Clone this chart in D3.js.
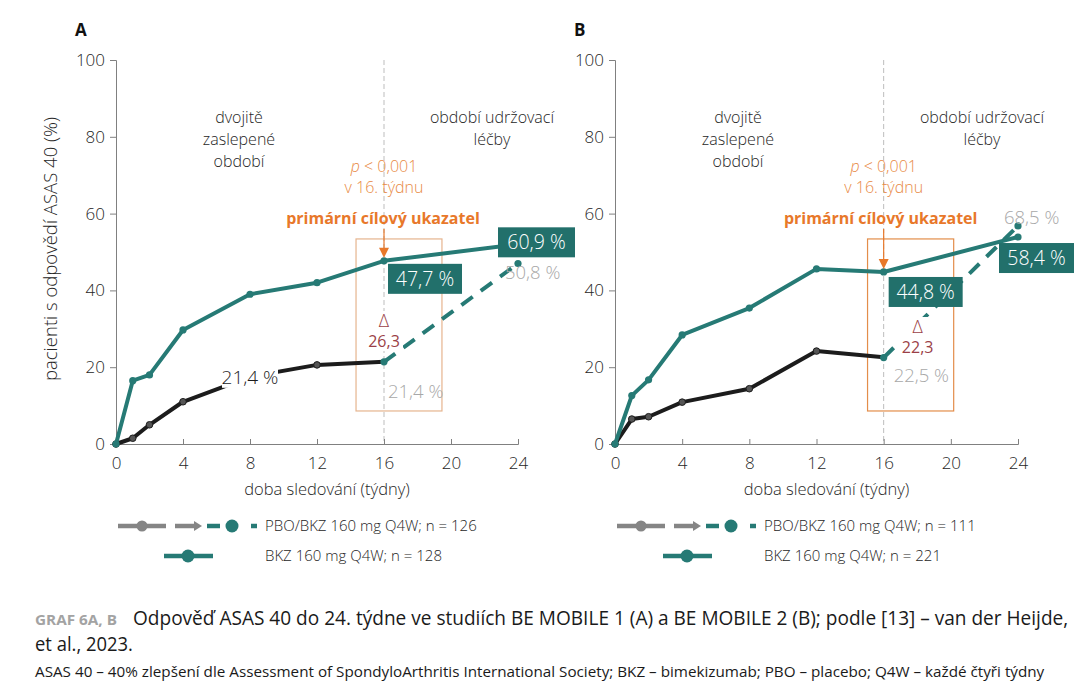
<!DOCTYPE html>
<html>
<head>
<meta charset="utf-8">
<script src="https://cdn.jsdelivr.net/npm/d3@7"></script>
<style>
body { margin: 0; background: #fff; }
text { font-family: "Open Sans", "Noto Sans", sans-serif; }
</style>
</head>
<body>
<script>
//Width and height
var w = 1080;
var h = 698;

//Data
var weeks = [0, 1, 2, 4, 8, 12, 16, 24];
var pboWeeks = [0, 1, 2, 4, 8, 12, 16];
var switchWeeks = [16, 24];
var xTicks = [0, 4, 8, 12, 16, 20, 24];
var yTicks = [0, 20, 40, 60, 80, 100];

var bkzA = [0, 16.5, 18, 29.7, 39, 42, 47.7, 52];
var pboA = [0, 1.5, 5, 11, 17.5, 20.6, 21.4];
var switchA = [21.4, 47];

var bkzB = [0, 12.6, 16.7, 28.4, 35.4, 45.6, 44.8, 53.9];
var pboB = [0, 6.5, 7.1, 10.9, 14.4, 24.2, 22.6];
var switchB = [22.5, 56.8];

var legendA = ["PBO/BKZ 160 mg Q4W; n = 126", "BKZ 160 mg Q4W; n = 128"];
var legendB = ["PBO/BKZ 160 mg Q4W; n = 111", "BKZ 160 mg Q4W; n = 221"];

//Colours
var teal = "#267a75";
var tealBox = "#22706b";
var grey = "#a8a8a8";
var orange = "#e8782a";
var orangeLight = "#e88a45";
var deltaRed = "#9b3f47";
var ink = "#262626";

//Create SVG element
var svg = d3.select("body")
            .append("svg")
            .attr("width", w)
            .attr("height", h);

svg.append("rect").attr("width", w).attr("height", h).attr("fill", "#fff");

function drawPanel(p) {
    var x = d3.scaleLinear().domain([0, 24]).range([p.x0, p.x1]);
    var y = d3.scaleLinear().domain([0, 100]).range([444, 60]);
    var g = svg.append("g");

    //panel letter
    g.append("text")
     .attr("x", p.x0 - 41).attr("y", 36)
     .attr("font-size", 17).attr("font-weight", "bold").attr("fill", "#111")
     .text(p.letter);

    //week 16 divider
    g.append("line")
     .attr("x1", x(16)).attr("x2", x(16))
     .attr("y1", y(100)).attr("y2", y(0))
     .attr("stroke", "#bdbdbd").attr("stroke-width", 1)
     .attr("stroke-dasharray", "5,3");

    //axes
    var yAxis = g.append("g")
     .attr("transform", "translate(" + p.x0 + ",0)")
     .call(d3.axisLeft(y).tickValues(yTicks).tickSize(6).tickPadding(5));
    var xAxis = g.append("g")
     .attr("transform", "translate(0," + y(0) + ")")
     .call(d3.axisBottom(x).tickValues(xTicks).tickSize(-5).tickPadding(13));
    [xAxis, yAxis].forEach(function(a) {
        a.select(".domain").attr("stroke", "#808080");
        a.selectAll(".tick line").attr("stroke", "#808080");
        a.selectAll(".tick text")
         .attr("font-size", 17).attr("fill", ink)
         .attr("font-family", "\"Open Sans\", sans-serif")
         .attr("font-weight", 300);
    });

    g.append("text")
     .attr("x", (p.x0 + p.x1) / 2 + 10).attr("y", 495)
     .attr("text-anchor", "middle").attr("font-size", 16.5)
     .attr("font-weight", 300).attr("fill", ink)
     .text("doba sledování (týdny)");

    //period labels
    var per = g.append("text")
     .attr("text-anchor", "middle").attr("font-size", 16)
     .attr("font-weight", 300).attr("fill", ink);
    ["dvojitě", "zaslepené", "období"].forEach(function(t, i) {
        per.append("tspan").attr("x", p.x0 + 123).attr("y", 123 + i * 22).text(t);
    });
    var per2 = g.append("text")
     .attr("text-anchor", "middle").attr("font-size", 16)
     .attr("font-weight", 300).attr("fill", ink);
    ["období udržovací", "léčby"].forEach(function(t, i) {
        per2.append("tspan").attr("x", p.x0 + p.maintX).attr("y", 123 + i * 22).text(t);
    });

    //p value
    var pv = g.append("text")
     .attr("text-anchor", "middle").attr("font-size", 16)
     .attr("font-weight", 300).attr("fill", orangeLight);
    var t1 = pv.append("tspan").attr("x", x(16)).attr("y", 172);
    t1.append("tspan").attr("font-style", "italic").text("p");
    t1.append("tspan").text(" < 0,001");
    pv.append("tspan").attr("x", x(16)).attr("y", 193).text("v 16. týdnu");

    g.append("text")
     .attr("x", x(16) + p.primDx).attr("y", 224)
     .attr("text-anchor", "middle").attr("font-size", 16)
     .attr("font-weight", "bold").attr("fill", orange)
     .text("primární cílový ukazatel");

    //orange box
    g.append("rect")
     .attr("x", x(p.boxWeeks[0])).attr("y", y(p.boxVals[1]))
     .attr("width", x(p.boxWeeks[1]) - x(p.boxWeeks[0]))
     .attr("height", y(p.boxVals[0]) - y(p.boxVals[1]))
     .attr("fill", "none").attr("stroke", p.boxColor).attr("stroke-width", 1.2);

    //lines
    var line = d3.line().x(function(d) { return x(d[0]); }).y(function(d) { return y(d[1]); });
    var pboPts = d3.zip(pboWeeks, p.pbo);
    var bkzPts = d3.zip(weeks, p.bkz);
    var swPts = d3.zip(switchWeeks, p.sw);

    g.append("path").attr("d", line(pboPts))
     .attr("fill", "none").attr("stroke", "#1c1c1c").attr("stroke-width", 4)
     .attr("stroke-linejoin", "round");
    g.selectAll(".pbo").data(pboPts.slice(0, -1)).enter().append("circle")
     .attr("cx", function(d) { return x(d[0]); }).attr("cy", function(d) { return y(d[1]); })
     .attr("r", 3.3).attr("fill", "#555").attr("stroke", "#1c1c1c").attr("stroke-width", 1);

    g.append("path").attr("d", line(swPts))
     .attr("fill", "none").attr("stroke", teal).attr("stroke-width", 4)
     .attr("stroke-dasharray", "14,10");

    g.append("path").attr("d", line(bkzPts))
     .attr("fill", "none").attr("stroke", teal).attr("stroke-width", 4)
     .attr("stroke-linejoin", "round");
    g.selectAll(".bkz").data(bkzPts.concat(swPts)).enter().append("circle")
     .attr("cx", function(d) { return x(d[0]); }).attr("cy", function(d) { return y(d[1]); })
     .attr("r", 3.6).attr("fill", teal);

    //arrow to primary endpoint
    g.append("line")
     .attr("x1", x(16)).attr("x2", x(16))
     .attr("y1", 229).attr("y2", y(p.bkz[6]) - 12)
     .attr("stroke", orange).attr("stroke-width", 1.2);
    g.append("path")
     .attr("d", "M" + (x(16) - 5) + "," + (y(p.bkz[6]) - 13) +
                "L" + (x(16) + 5) + "," + (y(p.bkz[6]) - 13) +
                "L" + x(16) + "," + (y(p.bkz[6]) - 3) + "Z")
     .attr("fill", orange);

    //black line label with white knock-out
    if (p.blackLabel) {
        var bx = x(8), by = y(p.pbo[4]);
        g.append("rect").attr("x", bx - 28).attr("y", by - 13)
         .attr("width", 56).attr("height", 24).attr("fill", "#fff");
        g.append("text").attr("x", bx).attr("y", by + 7)
         .attr("text-anchor", "middle").attr("font-size", 19)
         .attr("font-weight", 300).attr("fill", "#1c1c1c")
         .text(p.blackLabel);
    }

    //delta with white knock-out over the dashed line
    var dcx = x(16) + p.deltaDx;
    g.append("rect").attr("x", dcx - 19).attr("y", p.deltaY - 16)
     .attr("width", 38).attr("height", 40).attr("fill", "#fff");
    g.append("text").attr("x", dcx).attr("y", p.deltaY)
     .attr("text-anchor", "middle").attr("font-size", 18)
     .attr("font-weight", 300).attr("fill", deltaRed).text("Δ");
    g.append("text").attr("x", dcx).attr("y", p.deltaY + 20)
     .attr("text-anchor", "middle").attr("font-size", 16)
     .attr("fill", deltaRed).text(p.delta);

    //teal value boxes
    p.boxes.forEach(function(b) {
        var bxl = x(b.wk) + b.dx, byt = y(b.v) + b.dy;
        g.append("rect").attr("x", bxl).attr("y", byt)
         .attr("width", b.w).attr("height", 30).attr("fill", tealBox);
        g.append("text").attr("x", bxl + b.w / 2).attr("y", byt + 22)
         .attr("text-anchor", "middle").attr("font-size", 19.5)
         .attr("font-weight", 300).attr("fill", "#fff")
         .text(b.text);
    });

    //grey value labels
    p.greys.forEach(function(t) {
        g.append("text").attr("x", x(t.wk) + t.dx).attr("y", y(t.v) + t.dy)
         .attr("font-size", 18.5).attr("font-weight", 300).attr("fill", grey)
         .text(t.text);
    });

    //legend
    var lg = g.append("g");
    var r1 = 526, r2 = 556;
    lg.append("line").attr("x1", p.x0 + 2).attr("x2", p.x0 + 50).attr("y1", r1).attr("y2", r1)
      .attr("stroke", "#858585").attr("stroke-width", 4.5);
    lg.append("circle").attr("cx", p.x0 + 26).attr("cy", r1).attr("r", 5.5).attr("fill", "#858585");
    lg.append("line").attr("x1", p.x0 + 59).attr("x2", p.x0 + 80).attr("y1", r1).attr("y2", r1)
      .attr("stroke", "#858585").attr("stroke-width", 4.5);
    lg.append("path")
      .attr("d", "M" + (p.x0 + 78) + "," + (r1 - 5) + "L" + (p.x0 + 86) + "," + r1 + "L" + (p.x0 + 78) + "," + (r1 + 5) + "Z")
      .attr("fill", "#858585");
    lg.append("line").attr("x1", p.x0 + 91).attr("x2", p.x0 + 104).attr("y1", r1).attr("y2", r1)
      .attr("stroke", teal).attr("stroke-width", 4.5);
    lg.append("circle").attr("cx", p.x0 + 116).attr("cy", r1).attr("r", 6.5).attr("fill", teal);
    lg.append("line").attr("x1", p.x0 + 135).attr("x2", p.x0 + 141).attr("y1", r1).attr("y2", r1)
      .attr("stroke", teal).attr("stroke-width", 4.5);
    lg.append("line").attr("x1", p.x0 + 48).attr("x2", p.x0 + 97).attr("y1", r2).attr("y2", r2)
      .attr("stroke", teal).attr("stroke-width", 4.5);
    lg.append("circle").attr("cx", p.x0 + 72).attr("cy", r2).attr("r", 6.5).attr("fill", teal);
    lg.selectAll(".lt").data(p.legend).enter().append("text")
      .attr("x", p.x0 + 149).attr("y", function(d, i) { return (i ? r2 : r1) + 5; })
      .attr("font-size", 15).attr("font-weight", 300).attr("fill", ink)
      .text(function(d) { return d; });
}

drawPanel({
    letter: "A", x0: 116, x1: 518,
    bkz: bkzA, pbo: pboA, sw: switchA,
    maintX: 376, primDx: -1,
    boxWeeks: [14.33, 19.46], boxVals: [8.6, 53.4], boxColor: "#e6b48e",
    blackLabel: "21,4 %",
    boxes: [
        { wk: 16, v: bkzA[6], dx: 4, dy: 3, w: 74, text: "47,7 %" },
        { wk: 24, v: bkzA[7], dx: -20, dy: -17, w: 77, text: "60,9 %" }
    ],
    greys: [
        { wk: 24, v: switchA[1], dx: -13, dy: 15, text: "50,8 %" },
        { wk: 16, v: switchA[0], dx: 4, dy: 36, text: "21,4 %" }
    ],
    deltaDx: 0, deltaY: 327, delta: "26,3",
    legend: legendA
});

drawPanel({
    letter: "B", x0: 615, x1: 1018,
    bkz: bkzB, pbo: pboB, sw: switchB,
    maintX: 367, primDx: -3,
    boxWeeks: [15.04, 20.17], boxVals: [8.6, 53.4], boxColor: "#e38d4a",
    blackLabel: null,
    boxes: [
        { wk: 16, v: bkzB[6], dx: 5, dy: 5, w: 74, text: "44,8 %" },
        { wk: 24, v: bkzB[7], dx: -19, dy: 6, w: 75, text: "58,4 %" }
    ],
    greys: [
        { wk: 24, v: switchB[1], dx: -14, dy: -2, text: "68,5 %" },
        { wk: 16, v: switchB[0], dx: 10, dy: 24, text: "22,5 %" }
    ],
    deltaDx: 34, deltaY: 333, delta: "22,3",
    legend: legendB
});

//y axis title
svg.append("text")
   .attr("transform", "translate(57,249) rotate(-90)")
   .attr("text-anchor", "middle").attr("font-size", 18.5)
   .attr("font-weight", 300).attr("fill", ink)
   .text("pacienti s odpovědí ASAS 40 (%)");

//caption: squeeze each line horizontally to the reference width
function captionLine(cx, cy, width, size, weight, color, str) {
    var gg = svg.append("g");
    var t = gg.append("text").attr("x", 0).attr("y", 0)
       .attr("font-size", size).attr("font-weight", weight).attr("fill", color)
       .text(str);
    var len = t.node().getComputedTextLength();
    gg.attr("transform", "translate(" + cx + "," + cy + ") scale(" + (width / len) + ",1)");
}
captionLine(35, 625, 82, 14, "bold", "#a3a3a3", "GRAF 6A, B");
captionLine(133, 625, 936, 20.5, "normal", "#1a1a1a",
    "Odpověď ASAS 40 do 24. týdne ve studiích BE MOBILE 1 (A) a BE MOBILE 2 (B); podle [13] – van der Heijde,");
captionLine(35, 651, 98, 20.5, "normal", "#1a1a1a", "et al., 2023.");
captionLine(35, 677, 1010, 15, "normal", "#1a1a1a",
    "ASAS 40 – 40% zlepšení dle Assessment of SpondyloArthritis International Society; BKZ – bimekizumab; PBO – placebo; Q4W – každé čtyři týdny");
</script>
</body>
</html>
